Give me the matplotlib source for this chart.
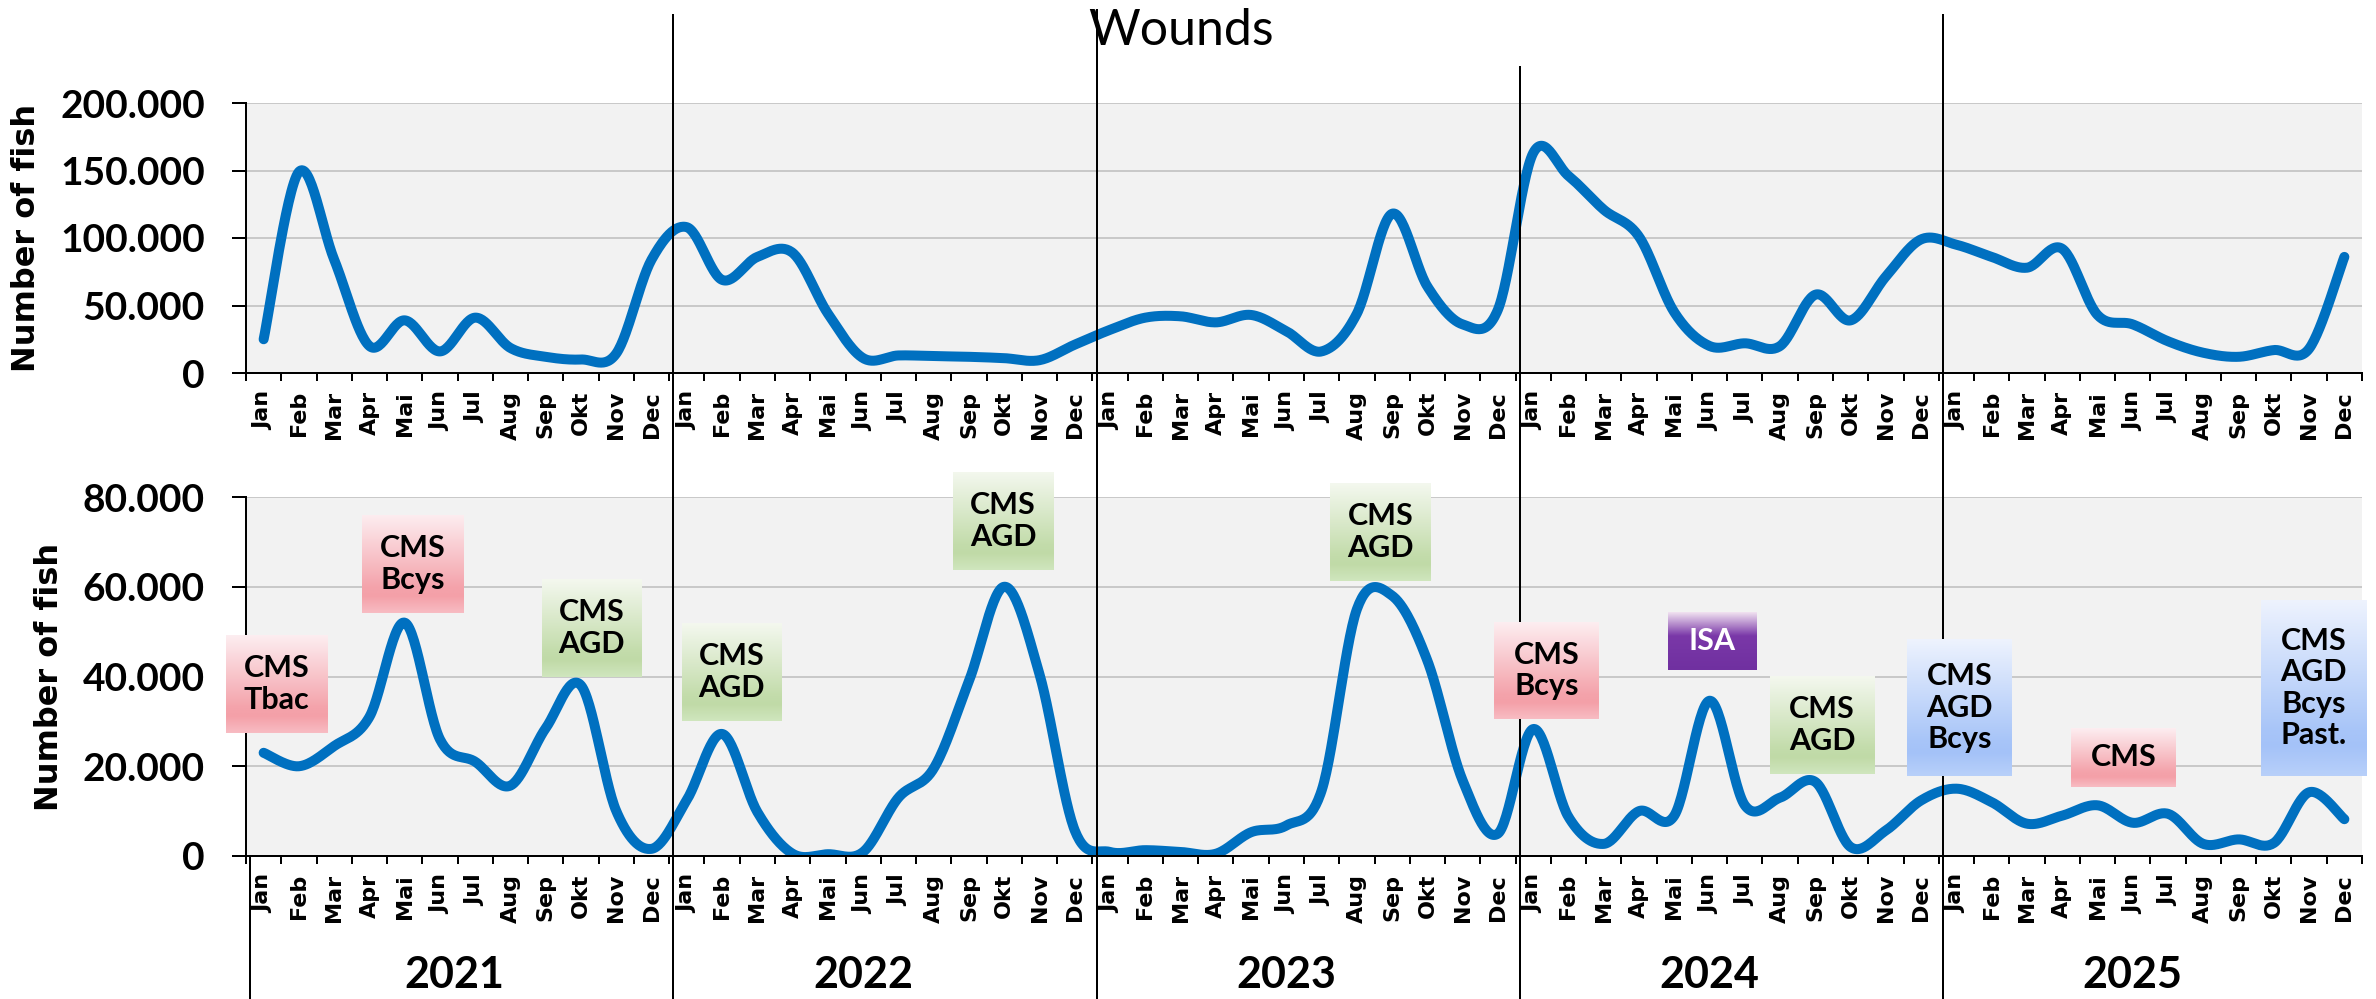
import numpy as np
import matplotlib
matplotlib.use("Agg")
import matplotlib.pyplot as plt
from matplotlib.lines import Line2D
import matplotlib.transforms as mtrans
from matplotlib.colors import to_rgb

plt.rcParams['font.family'] = ['Lato', 'DejaVu Sans']

# ---------------- data ----------------
MONTHS = ["Jan", "Feb", "Mar", "Apr", "Mai", "Jun", "Jul", "Aug", "Sep", "Okt", "Nov", "Dec"]
YEARS = ["2021", "2022", "2023", "2024", "2025"]
TITLE = "Wounds"
YLABEL = "Number of fish"

top_2021 = [25000, 149000, 84000, 20000, 39000, 16000, 41000, 18500, 12000, 10000, 14500, 84000]
top_2022 = [108000, 69000, 86000, 89000, 44000, 11000, 13000, 12500, 12000, 11000, 9500, 21000]
top_2023 = [32000, 41000, 42000, 37500, 43000, 31000, 16000, 44000, 118000, 64000, 36000, 47000]
top_2024 = [163000, 146000, 121000, 101000, 45000, 20000, 22000, 20000, 58000, 39000, 71500, 99000]
top_2025 = [95000, 86000, 78000, 92000, 43000, 36000, 23500, 15000, 12000, 17000, 18000, 86000]

bot_2021 = [23000, 20000, 24500, 31000, 52000, 26000, 21000, 15700, 28500, 38000, 10000, 1600]
bot_2022 = [12500, 27200, 9800, 500, 400, 900, 13000, 19500, 39000, 60000, 40500, 5700]
bot_2023 = [900, 1300, 900, 500, 5300, 6800, 14600, 55000, 58000, 43500, 16800, 5000]
bot_2024 = [28300, 8700, 2700, 10000, 9000, 34600, 11300, 13000, 16500, 2000, 5700, 12400]
bot_2025 = [15000, 12000, 7200, 9000, 11300, 7400, 9400, 2700, 3700, 2900, 14200, 8200]

top_values = top_2021 + top_2022 + top_2023 + top_2024 + top_2025
bot_values = bot_2021 + bot_2022 + bot_2023 + bot_2024 + bot_2025

# annotation labels (text, colour scheme)
ANNOT_TEXT = ["CMS\nTbac", "CMS\nBcys", "CMS\nAGD", "CMS\nAGD", "CMS\nAGD", "CMS\nAGD",
              "CMS\nBcys", "ISA", "CMS\nAGD", "CMS\nAGD\nBcys", "CMS", "CMS\nAGD\nBcys\nPast."]
ANNOT_KIND = ["pink", "pink", "green", "green", "green", "green",
              "pink", "purple", "green", "blue", "pink", "blue"]

# ---------------- layout / style ----------------
# annotation boxes (x0, x1 in month index, y0, y1 in fish) on lower panel
ANNOT_BOX = [(-1.07, 1.80, 27400, 49200), (2.79, 5.68, 54100, 76000),
             (7.89, 10.72, 39900, 61700), (11.86, 14.69, 30100, 51900),
             (19.54, 22.40, 63700, 85600), (30.25, 33.09, 61300, 83100),
             (34.90, 37.85, 30500, 52100), (39.83, 42.33, 41400, 54400),
             (42.72, 45.67, 18300, 40100), (46.61, 49.58, 17800, 48300),
             (51.26, 54.23, 15400, 28500), (56.64, 59.62, 17800, 57000)]

GRADS = {
    "pink": [(0, '#fdeef1'), (0.74, '#f4a3ab'), (0.83, '#f4a0a8'), (1.0, '#f8bcc3')],
    "green": [(0, '#f4f8ef'), (0.74, '#c3dcab'), (0.83, '#c0daa7'), (1.0, '#d0e6be')],
    "blue": [(0, '#eef3fe'), (0.74, '#a8c5f8'), (0.83, '#a4c2f8'), (1.0, '#b8d0fa')],
    "purple": [(0, '#f7eaf4'), (0.42, '#7a38a8'), (1.0, '#7030a0')],
}

W, H = 2376, 999
LINE_BLUE = '#0070c0'
PX = 72 / 100.0  # points per pixel at dpi 100

fig = plt.figure(figsize=(W / 100, H / 100), dpi=100)
ax1 = fig.add_axes([246 / W, 1 - 373 / H, (2362 - 246) / W, (373 - 103) / H])
ax2 = fig.add_axes([246 / W, 1 - 856 / H, (2362 - 246) / W, (856 - 497) / H])


def smooth(xs, ys, n=30):
    P = np.column_stack([xs, ys]).astype(float)
    Pe = np.vstack([P[0], P, P[-1]])
    out = []
    t = np.linspace(0, 1, n, endpoint=False)[:, None]
    for i in range(len(P) - 1):
        p0, p1, p2, p3 = Pe[i], Pe[i + 1], Pe[i + 2], Pe[i + 3]
        b1 = p1 + (p2 - p0) / 6
        b2 = p2 - (p3 - p1) / 6
        seg = (1 - t) ** 3 * p1 + 3 * (1 - t) ** 2 * t * b1 + 3 * (1 - t) * t ** 2 * b2 + t ** 3 * p2
        out.append(seg)
    out.append(P[-1:])
    return np.vstack(out)


def fmt(v):
    return f"{int(v):,}".replace(",", ".")


month_labels = MONTHS * len(YEARS)
x = np.arange(len(month_labels))

for ax, vals, ymax, step in [(ax1, top_values, 200000, 50000), (ax2, bot_values, 80000, 20000)]:
    ax.set_facecolor('#f2f2f2')
    curve = smooth(x, vals)
    ax.plot(curve[:, 0], curve[:, 1], color=LINE_BLUE, lw=10 * PX,
            solid_capstyle='round', solid_joinstyle='round', zorder=3)
    ax.set_xlim(-0.5, len(x) - 0.5)
    ax.set_ylim(0, ymax)
    for s in ['top', 'right']:
        ax.spines[s].set_visible(False)
    for s in ['left', 'bottom']:
        ax.spines[s].set_linewidth(2 * PX)
        ax.spines[s].set_zorder(4)
    yt = np.arange(0, ymax + 1, step)
    ax.set_yticks(yt)
    ax.set_yticklabels([fmt(v) for v in yt], fontfamily='Lato', fontweight='bold', fontsize=28)
    ax.yaxis.grid(True, color='#c0c0c0', lw=1.6 * PX)
    ax.set_axisbelow(True)
    ax.tick_params(axis='y', direction='out', length=14 * PX, width=2 * PX, pad=27 * PX)
    ax.set_xticks(x)
    ax.set_xticklabels(month_labels, rotation=90, fontfamily='DejaVu Sans',
                       fontweight='bold', fontsize=16)
    ax.set_xticks(np.arange(-0.5, len(x)), minor=True)
    ax.tick_params(axis='x', which='major', length=0, pad=18 * PX)
    ax.tick_params(axis='x', which='minor', direction='out', length=8 * PX, width=2 * PX)
    ax.set_ylabel(YLABEL, fontfamily='DejaVu Sans', fontweight='bold', fontsize=23,
                  labelpad=18 * PX)

# title
fig.text(1181 / W, 1 - 45 / H, TITLE, ha='center', va='baseline', fontfamily='Lato',
         fontsize=36)

# year separators and year labels
blend = mtrans.blended_transform_factory(ax2.transData, fig.transFigure)
sep_top = [1 - 857 / H, 1 - 15 / H, 1 - 10 / H, 1 - 67 / H, 1 - 15 / H]
for k in range(len(YEARS)):
    xb = 12 * k - 0.5 + 0.12
    fig.add_artist(Line2D([xb, xb], [0, sep_top[k]], transform=blend, color='black',
                          lw=2 * PX, zorder=3))
    xc = 12 * k + 5.5 - (0.1 if k == 0 else 0.5)
    fig.text(xc, 1 - 988 / H, YEARS[k], transform=blend, ha='center', va='baseline',
             fontfamily='Lato', fontweight='bold', fontsize=31)


def gradient(stops, n=256):
    pos = np.array([s[0] for s in stops])
    cols = np.array([to_rgb(s[1]) for s in stops])
    tt = np.linspace(0, 1, n)
    arr = np.stack([np.interp(tt, pos, cols[:, c]) for c in range(3)], axis=-1)
    return arr[:, None, :]


inv = fig.transFigure.inverted()
for text, kind, (bx0, bx1, by0, by1) in zip(ANNOT_TEXT, ANNOT_KIND, ANNOT_BOX):
    (fx0, fy0) = inv.transform(ax2.transData.transform((bx0, by0)))
    (fx1, fy1) = inv.transform(ax2.transData.transform((bx1, by1)))
    bax = fig.add_axes([fx0, fy0, fx1 - fx0, fy1 - fy0], zorder=5)
    bax.imshow(gradient(GRADS[kind]), aspect='auto', extent=[0, 1, 0, 1],
               interpolation='bilinear')
    bax.set_xlim(0, 1)
    bax.set_ylim(0, 1)
    bax.axis('off')
    bax.text(0.5, 0.5, text, ha='center', va='center', transform=bax.transAxes,
             fontfamily='Lato', fontweight='bold', fontsize=22, linespacing=1.15,
             color='white' if kind == 'purple' else 'black')

fig.savefig('out.png', dpi=100)
